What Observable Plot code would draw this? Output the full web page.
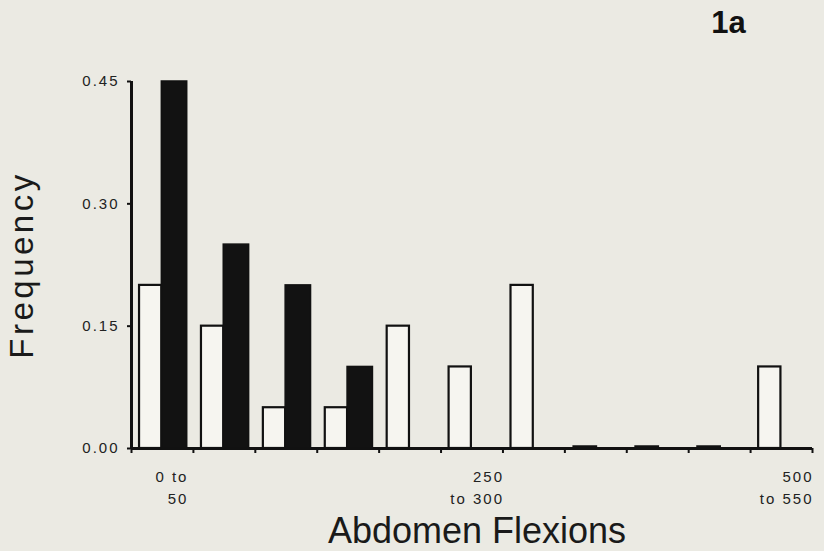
<!DOCTYPE html>
<html>
<head>
<meta charset="utf-8">
<script src="https://cdn.jsdelivr.net/npm/d3@7"></script>
<script src="https://cdn.jsdelivr.net/npm/@observablehq/plot@0.6"></script>
<style>
  html, body { margin: 0; padding: 0; background: #ebeae3; }
  g[aria-label="y-axis tick label"] text { letter-spacing: 2px; }
  g[aria-description="xlabels"] text { letter-spacing: 2px; }
  g[aria-description="ytitle"] text { letter-spacing: 3.5px; }
</style>
</head>
<body>
<div id="chart"></div>
<script>
// Bins of abdomen flexions (lower edge of each 50-wide bin)
const binStart = [0, 50, 100, 150, 200, 250, 300, 350, 400, 450, 500];
const binWidth = 50;
// Open (white) bars and filled (black) bars
const whiteFreq = [0.20, 0.15, 0.05, 0.05, 0.15, 0.10, 0.20, 0.00, 0.00, 0.00, 0.10];
const blackFreq = [0.45, 0.25, 0.20, 0.10, null, null, null, null, null, null, null];
const yTicks = [0, 0.15, 0.30, 0.45];
const xTickLabels = [
  {bin: 0, text: "0 to\n50"},
  {bin: 5, text: "250\nto 300"},
  {bin: 10, text: "500\nto 550"}
];

const whiteRows = binStart.map((b, i) => ({lo: b, v: whiteFreq[i]}));
const blackRows = binStart.map((b, i) => ({lo: b, v: blackFreq[i]})).filter(d => d.v != null);

// offsets within a bin (data units)
const wA = 6.5, wB = 24.5, bA = 24.5, bB = 45;

const font = "'Liberation Sans', Arial, Helvetica, sans-serif";

const chart = Plot.plot({
  width: 824,
  height: 551,
  marginLeft: 131,
  marginRight: 12,
  marginTop: 81,
  marginBottom: 103,
  style: {background: "#ebeae3", fontFamily: font, color: "#111"},
  x: {type: "linear", domain: [0, 550]},
  y: {domain: [0, 0.45]},
  marks: [
    // white bars
    Plot.rectY(whiteRows.filter(d => d.v > 0), {
      x1: d => d.lo + wA, x2: d => d.lo + wB, y1: 0, y2: "v",
      fill: "#f6f5f0", stroke: "#111", strokeWidth: 2.2
    }),
    // zero-height white bars drawn as flat marks
    Plot.ruleY(whiteRows.filter(d => d.v === 0), {
      x1: d => d.lo + wA, x2: d => d.lo + wB + 2, y: "v",
      stroke: "#111", strokeWidth: 2.5, dy: -2
    }),
    // black bars
    Plot.rectY(blackRows, {
      x1: d => d.lo + bA, x2: d => d.lo + bB, y1: 0, y2: "v",
      fill: "#121212", stroke: "#111", strokeWidth: 1.5
    }),
    // axes lines
    Plot.ruleX([0], {y1: 0, y2: 0.45, stroke: "#111", strokeWidth: 3}),
    Plot.ruleY([0], {x1: 0, x2: 550, stroke: "#111", strokeWidth: 3}),
    Plot.axisY({
      ticks: yTicks, tickFormat: d3.format(".2f"), tickSize: 4, tickPadding: 8,
      fontSize: 15, label: null, strokeWidth: 2, fill: "#222"
    }),
    Plot.axisX({
      ticks: d3.range(0, 551, binWidth), tickFormat: () => "", tickSize: 5,
      label: null, strokeWidth: 2
    }),
    // x tick labels (two-line)
    Plot.text(xTickLabels.filter(d => d.bin === 0), {
      x: d => binStart[d.bin] + binWidth / 2, y: 0, text: "text",
      textAnchor: "end", lineAnchor: "middle", lineHeight: 1.47,
      dx: 26, dy: 37, fontSize: 15, fill: "#222", ariaDescription: "xlabels"
    }),
    Plot.text(xTickLabels.filter(d => d.bin !== 0), {
      x: d => binStart[d.bin] + binWidth / 2, y: 0, text: "text",
      textAnchor: "end", lineAnchor: "middle", lineHeight: 1.47,
      dx: 32, dy: 37, fontSize: 15, fill: "#222", ariaDescription: "xlabels"
    }),
    // axis titles
    Plot.text(["Frequency"], {
      frameAnchor: "left", rotate: -90, textAnchor: "middle", lineAnchor: "middle",
      dx: -109, dy: 0, fontSize: 33, fill: "#1a1a1a", ariaDescription: "ytitle"
    }),
    Plot.text(["Abdomen Flexions"], {
      frameAnchor: "bottom", textAnchor: "middle", lineAnchor: "middle",
      dx: 5, dy: 83, fontSize: 36, fill: "#1a1a1a"
    }),
    // panel label
    Plot.text(["1a"], {
      frameAnchor: "top-left", textAnchor: "middle", lineAnchor: "middle",
      dx: 597, dy: -58, fontSize: 31, fontWeight: "bold", fill: "#111"
    })
  ]
});
document.getElementById("chart").appendChild(chart);
</script>
</body>
</html>
